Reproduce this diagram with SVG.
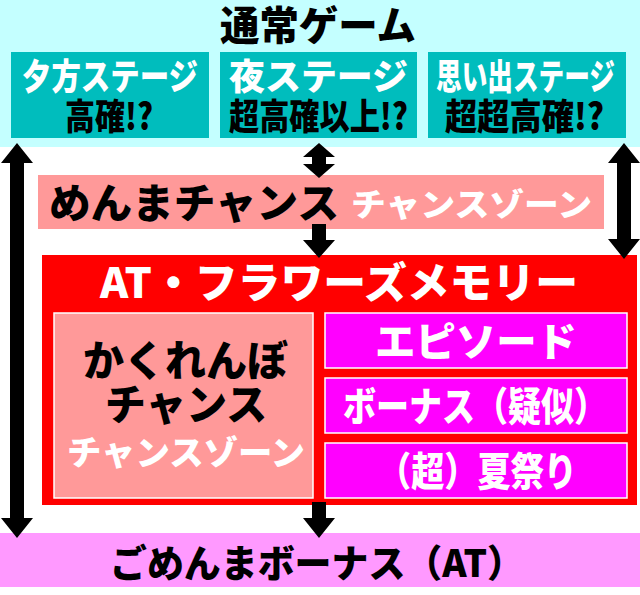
<svg xmlns="http://www.w3.org/2000/svg" width="640" height="595" viewBox="0 0 640 595">
<style>
text{font-family:"Noto Sans CJK JP","Noto Sans",sans-serif;font-weight:900}
.w{fill:#ffffff}
.k{fill:#000000}
.teal{fill:#00bdbd}
.inner{stroke:#ffffff;stroke-width:1.5}
.arrow{fill:#000000}
</style>
<rect width="640" height="595" fill="#ffffff"/>
<g id="normal-game">
<rect x="0" y="0" width="640" height="147" fill="#c4ffff"/>
<text class="k" x="220" y="40" font-size="40" textLength="196" lengthAdjust="spacingAndGlyphs">通常ゲーム</text>
</g>
<g id="stage-evening">
<rect class="teal" x="11" y="52" width="198" height="86"/>
<text class="w" x="22" y="90" font-size="36" textLength="176" lengthAdjust="spacingAndGlyphs">夕方ステージ</text>
<text class="k" x="65" y="130" font-size="36" textLength="88" lengthAdjust="spacingAndGlyphs">高確!?</text>
</g>
<g id="stage-night">
<rect class="teal" x="220" y="52" width="197" height="86"/>
<text class="w" x="229" y="90" font-size="36" textLength="179" lengthAdjust="spacingAndGlyphs">夜ステージ</text>
<text class="k" x="229" y="130" font-size="36" textLength="179" lengthAdjust="spacingAndGlyphs">超高確以上!?</text>
</g>
<g id="stage-memory">
<rect class="teal" x="428" y="52" width="198" height="86"/>
<text class="w" x="436" y="90" font-size="36" textLength="179" lengthAdjust="spacingAndGlyphs">思い出ステージ</text>
<text class="k" x="445" y="130" font-size="36" textLength="159" lengthAdjust="spacingAndGlyphs">超超高確!?</text>
</g>
<g id="menma-chance">
<rect x="38" y="175" width="566" height="54" fill="#ff9999"/>
<text class="k" x="49" y="218" font-size="41" textLength="290" lengthAdjust="spacingAndGlyphs">めんまチャンス</text>
<text class="w" x="351" y="216" font-size="32" textLength="241" lengthAdjust="spacingAndGlyphs">チャンスゾーン</text>
</g>
<g id="at-flowers-memory">
<rect x="42" y="255" width="595" height="250" fill="#ff0000"/>
<text class="w" x="100" y="298" font-size="42" textLength="478" lengthAdjust="spacingAndGlyphs">AT・フラワーズメモリー</text>
</g>
<g id="kakurenbo-chance">
<rect class="inner" x="54" y="313" width="259" height="185" fill="#ff9999"/>
<text class="k" x="83" y="376" font-size="42" textLength="205" lengthAdjust="spacingAndGlyphs">かくれんぼ</text>
<text class="k" x="105" y="420" font-size="42" textLength="162" lengthAdjust="spacingAndGlyphs">チャンス</text>
<text class="w" x="67" y="465" font-size="34" textLength="238" lengthAdjust="spacingAndGlyphs">チャンスゾーン</text>
</g>
<g id="episode">
<rect class="inner" x="325" y="313" width="302" height="55" fill="#ff00ff"/>
<text class="w" x="375" y="356" font-size="40" textLength="202" lengthAdjust="spacingAndGlyphs">エピソード</text>
</g>
<g id="bonus-pseudo">
<rect class="inner" x="325" y="378" width="302" height="55" fill="#ff00ff"/>
<text class="w" x="343" y="421" font-size="40" textLength="264" lengthAdjust="spacingAndGlyphs">ボーナス（疑似）</text>
</g>
<g id="summer-festival">
<rect class="inner" x="325" y="443" width="302" height="55" fill="#ff00ff"/>
<text class="w" x="378" y="486" font-size="40" textLength="199" lengthAdjust="spacingAndGlyphs">（超）夏祭り</text>
</g>
<g id="gomenma-bonus">
<rect x="0" y="533" width="640" height="54" fill="#ff99ff"/>
<text class="k" x="110" y="577" font-size="38" textLength="414" lengthAdjust="spacingAndGlyphs">ごめんまボーナス（AT）</text>
</g>
<g id="connectors" class="arrow">
<polygon points="17,143 33,163 24,163 24,518 33,518 17,538 1,518 10,518 10,163 1,163"/>
<polygon points="624,143 640,163 631,163 631,239 640,239 624,259 608,239 617,239 617,163 608,163"/>
<polygon points="319,143 335,157 326,157 326,164 335,164 319,178 303,164 312,164 312,157 303,157"/>
<polygon points="312,224 326,224 326,240 335,240 319,258 303,240 312,240"/>
<polygon points="312,502 326,502 326,518 335,518 319,538 303,518 312,518"/>
</g>
</svg>
